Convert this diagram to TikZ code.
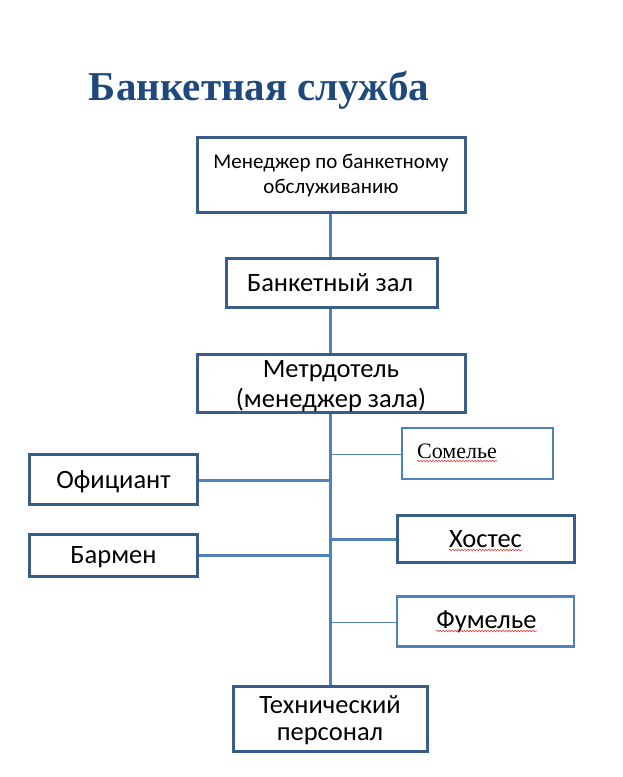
\documentclass[tikz,border=0pt]{standalone}
\usepackage{fontspec}
\setmainfont{Carlito}
\newfontfamily\titlefont{Liberation Serif}
\usetikzlibrary{decorations.pathmorphing}
\definecolor{darkb}{HTML}{385D8A}
\definecolor{lightb}{HTML}{4F81BD}
\definecolor{titleb}{HTML}{1F497D}
\definecolor{wavy}{HTML}{E8413C}
\tikzset{
  darkbox/.style={draw=darkb, line width=3pt, fill=white, inner sep=0pt},
  lightbox/.style={draw=lightb, line width=2.4pt, fill=white, inner sep=0pt},
  thick conn/.style={draw=lightb, line width=3pt},
  thin conn/.style={draw=lightb, line width=1pt},
  lbl/.style={inner sep=0pt, align=center},
  bigtxt/.style={font=\fontsize{26.5}{32}\selectfont},
  spell/.style={draw=wavy, line width=0.6pt, decorate, decoration={snake, amplitude=0.8pt, segment length=3pt}}
}
\begin{document}
\begin{tikzpicture}[x=1pt,y=-1pt]
\useasboundingbox (0,0) rectangle (622,777);
% title
\node[lbl, anchor=base, text=titleb, font=\titlefont\bfseries\fontsize{41}{50}\selectfont] (title) at (259,100) {Банкетная служба};
% connectors (drawn first)
\coordinate (top) at (330,211);
\coordinate (bot) at (330,687);
\draw[thick conn] (top) -- (bot);
\coordinate (jOf) at (330,480);
\coordinate (jBa) at (330,555);
\coordinate (jSo) at (330,454);
\coordinate (jHo) at (330,539);
\coordinate (jFu) at (330,622);
% boxes
\node[darkbox, minimum width=268pt, minimum height=75pt] (mgr) at (331,174.5) {};
\node[darkbox, minimum width=211pt, minimum height=49pt] (hall) at (331.5,283) {};
\node[darkbox, minimum width=268pt, minimum height=58pt] (maitre) at (331,383) {};
\node[lightbox, minimum width=151pt, minimum height=51pt] (som) at (477.5,453.5) {};
\node[darkbox, minimum width=168pt, minimum height=50pt] (ofi) at (113.5,479) {};
\node[darkbox, minimum width=168pt, minimum height=42pt] (bar) at (113.5,555) {};
\node[darkbox, minimum width=177pt, minimum height=47pt] (host) at (485.5,538.5) {};
\node[lightbox, minimum width=177pt, minimum height=50pt] (fum) at (485.5,621.5) {};
\node[darkbox, minimum width=194pt, minimum height=65pt] (tech) at (330.5,719) {};
% connectors to side boxes
\draw[thick conn] (ofi.east |- jOf) -- (jOf);
\draw[thick conn] (bar.east |- jBa) -- (jBa);
\draw[thin conn] (jSo) -- (som.west |- jSo);
\draw[thick conn] (jHo) -- (host.west |- jHo);
\draw[thin conn] (jFu) -- (fum.west |- jFu);
% labels
\node[lbl, font=\fontsize{21}{25}\selectfont, anchor=base] (tmgr1) at (331,168) {Менеджер по банкетному};
\node[lbl, font=\fontsize{21}{25}\selectfont, anchor=base] (tmgr2) at (331,193) {обслуживанию};
\node[lbl, bigtxt, anchor=base] (thall) at (330,291) {Банкетный зал};
\node[lbl, bigtxt, anchor=base] (tmai1) at (331,377) {Метрдотель};
\node[lbl, bigtxt, anchor=base] (tmai2) at (331,407) {(менеджер зала)};
\node[lbl, font=\titlefont\fontsize{22}{26}\selectfont, anchor=base west] (tsom) at (417,458) {Сомелье};
\node[lbl, bigtxt, anchor=base] (tofi) at (113.5,488) {Официант};
\node[lbl, bigtxt, anchor=base] (tbar) at (113.5,563) {Бармен};
\node[lbl, bigtxt, anchor=base] (thost) at (485.5,547) {Хостес};
\node[lbl, bigtxt, anchor=base] (tfum) at (486.5,628) {Фумелье};
\node[lbl, bigtxt, anchor=base] (ttech1) at (330,713) {Технический};
\node[lbl, bigtxt, anchor=base] (ttech2) at (330,740) {персонал};
% spell-check squiggles
\draw[spell] ([yshift=-3pt]tsom.base west) -- ([yshift=-3pt]tsom.base east);
\draw[spell] ([yshift=-3pt]thost.base west) -- ([yshift=-3pt]thost.base east);
\draw[spell] ([yshift=-3pt]tfum.base west) -- ([yshift=-3pt]tfum.base east);
\end{tikzpicture}
\end{document}
